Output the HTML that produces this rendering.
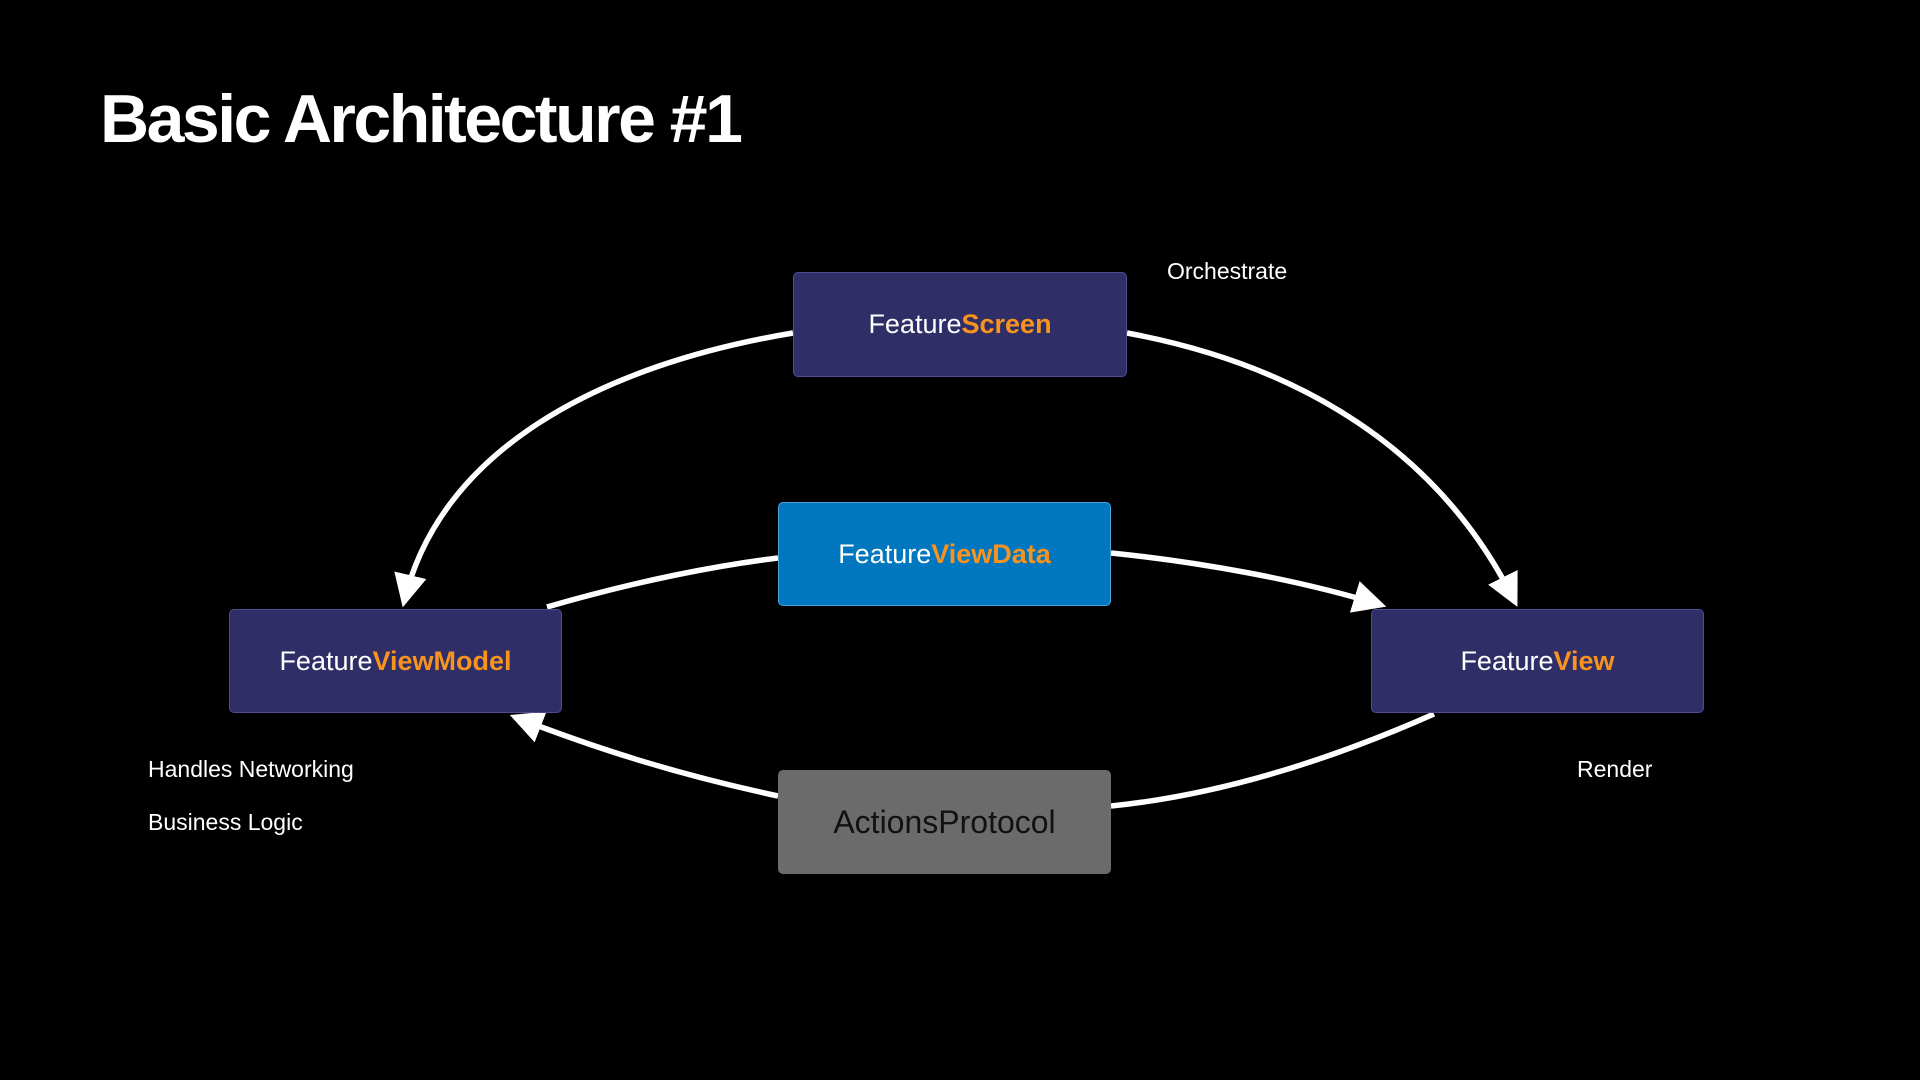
<!DOCTYPE html>
<html><head><meta charset="utf-8"><style>
body{margin:0;width:1920px;height:1080px;background:#000;overflow:hidden;font-family:"Liberation Sans",sans-serif;position:relative}
.t{position:absolute;left:100px;top:80px;color:#fff;font-weight:bold;font-size:68px;letter-spacing:-2.5px}
.b{position:absolute;box-sizing:border-box;border-radius:5px;display:flex;align-items:center;justify-content:center;font-size:27px;color:#fff}
.p{background:#2f2e67;border:1.5px solid #4d4c95}
.o{color:#f7931e;font-weight:bold}
.l{position:absolute;color:#fff;font-size:23px}
</style></head><body>
<div class="t">Basic Architecture #1</div>
<svg width="1920" height="1080" style="position:absolute;left:0;top:0">
<defs><marker id="a" markerWidth="6" markerHeight="6" refX="5" refY="3" orient="auto" markerUnits="strokeWidth"><path d="M0,0 L6,3 L0,6 Z" fill="#fff"/></marker></defs>
<g fill="none" stroke="#fff" stroke-width="5.5">
<path d="M793,333 C600,365 440,450 404,602" marker-end="url(#a)"/>
<path d="M1127,333 C1300,365 1440,450 1515,602" marker-end="url(#a)"/>
<path d="M547,607 C640,580 720,565 778,558"/>
<path d="M1111,553 C1200,562 1300,580 1381,605" marker-end="url(#a)"/>
<path d="M1434,714 C1330,760 1220,795 1111,806"/>
<path d="M778,796 C680,775 600,750 515,717" marker-end="url(#a)"/>
</g></svg>
<div class="b p" style="left:793px;top:272px;width:334px;height:105px">Feature<span class="o">Screen</span></div>
<div class="b" style="left:778px;top:502px;width:333px;height:104px;background:#0077bf;border:1.5px solid #4fa3dc">Feature<span class="o">ViewData</span></div>
<div class="b p" style="left:229px;top:609px;width:333px;height:104px">Feature<span class="o">ViewModel</span></div>
<div class="b p" style="left:1371px;top:609px;width:333px;height:104px">Feature<span class="o">View</span></div>
<div class="b" style="left:778px;top:770px;width:333px;height:104px;background:#6b6b6b;color:#111;font-size:32px">ActionsProtocol</div>
<div class="l" style="left:1167px;top:258px">Orchestrate</div>
<div class="l" style="left:148px;top:756px">Handles Networking</div>
<div class="l" style="left:148px;top:809px">Business Logic</div>
<div class="l" style="left:1577px;top:756px">Render</div>
</body></html>
